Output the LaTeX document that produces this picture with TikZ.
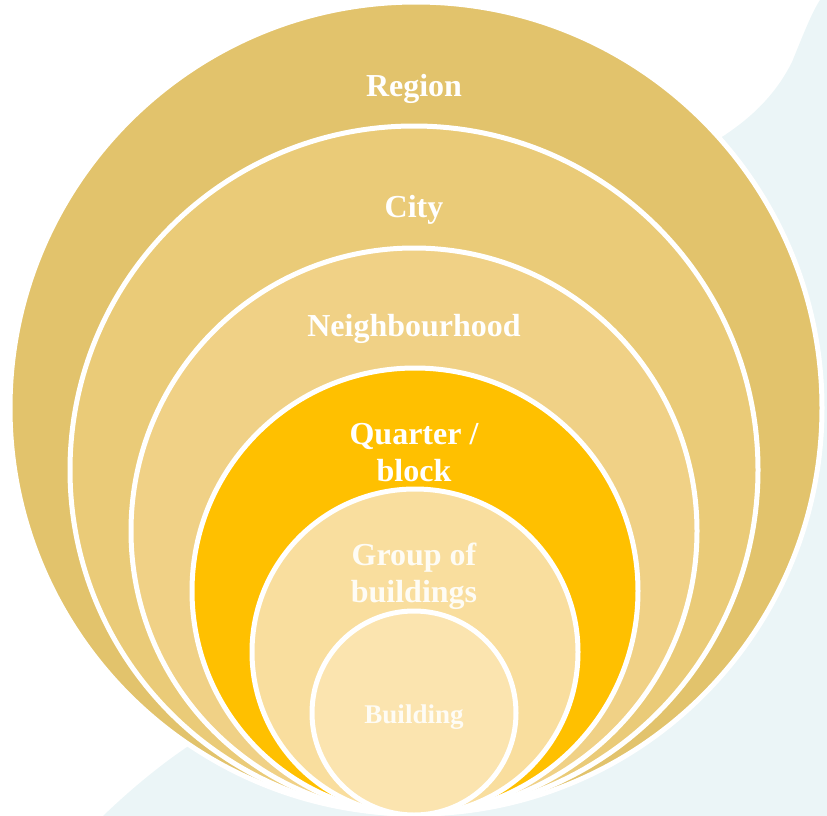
\documentclass[tikz,border=0pt]{standalone}
\usepackage{fontspec}
\setmainfont{Liberation Serif}
\definecolor{bgblue}{HTML}{EBF5F7}
\definecolor{cRegion}{HTML}{E2C36C}
\definecolor{cCity}{HTML}{EACB78}
\definecolor{cNeigh}{HTML}{F0D186}
\definecolor{cQuarter}{HTML}{FFC000}
\definecolor{cGroup}{HTML}{F9DE9E}
\definecolor{cBuild}{HTML}{FBE4AF}
\tikzset{
  ring/.style={circle, draw=white, line width=5pt, inner sep=0pt, outer sep=0pt},
  lab/.style={text=white, font=\bfseries\fontsize{32}{37}\selectfont, align=center, inner sep=0pt},
  labsoft/.style={lab, text=white!90!cGroup},
}
\begin{document}
\begin{tikzpicture}[x=1pt,y=-1pt]
\useasboundingbox (0,0) rectangle (827,816);
% background blobs
\fill[bgblue] (103,816) .. controls (130,790) and (160,765) .. (190,745)
  -- (416,500) -- (700,150)
  .. controls (740,128) and (772,102) .. (792,62)
  .. controls (803,35) and (812,12) .. (820,0)
  -- (827,0) -- (827,816) -- cycle;
% circles
\node[ring, fill=cRegion, minimum size=812pt] (region) at (416,408) {};
\node[ring, fill=cCity, minimum size=688pt] (city) at (414,470) {};
\node[ring, fill=cNeigh, minimum size=566pt] (neigh) at (414,531) {};
\node[ring, fill=cQuarter, minimum size=446pt] (quarter) at (415,591) {};
\node[ring, fill=cGroup, minimum size=326pt] (group) at (415,652) {};
\node[ring, fill=cBuild, minimum size=204pt] (building) at (414,713) {};
% labels
\node[lab] (tregion) at (414,89) {Region};
\node[lab] (tcity) at (414,210) {City};
\node[lab] (tneigh) at (414,329) {Neighbourhood};
\node[lab] (tquarter) at (414,453) {Quarter /\\block};
\node[labsoft] (tgroup) at (414,576) {Group of\\buildings};
\node[labsoft, font=\bfseries\fontsize{27}{30}\selectfont] (tbuilding) at (414,717) {Building};
\end{tikzpicture}
\end{document}
